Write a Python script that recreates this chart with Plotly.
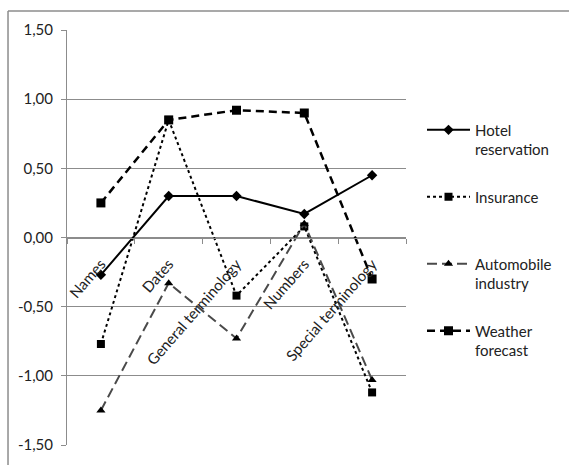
import plotly.graph_objects as go

# Categories and per-series scores
categories = ["Names", "Dates", "General terminology", "Numbers", "Special terminology"]
hotel = [-0.27, 0.30, 0.30, 0.17, 0.45]
insurance = [-0.77, 0.85, -0.42, 0.08, -1.12]
automobile = [-1.25, -0.33, -0.73, 0.10, -1.03]
weather = [0.25, 0.85, 0.92, 0.90, -0.30]

y_ticks = [-1.5, -1.0, -0.5, 0.0, 0.5, 1.0, 1.5]
y_tick_text = ["-1,50", "-1,00", "-0,50", "0,00", "0,50", "1,00", "1,50"]

FONT = "Lato"
GRID = "#8c8c8c"
TEXT = "#222222"

fig = go.Figure()

series = [
    ("Hotel<br>reservation", hotel, dict(color="black", width=2, dash="solid"),
     dict(symbol="diamond", size=8, color="black")),
    ("Insurance<br> ", insurance, dict(color="black", width=2, dash="dot"),
     dict(symbol="square", size=8, color="black")),
    ("Automobile<br>industry", automobile, dict(color="#4a4a4a", width=2, dash="10px,5px"),
     dict(symbol="triangle-up", size=8, color="black")),
    ("Weather<br>forecast", weather, dict(color="black", width=2.5, dash="8px,5px"),
     dict(symbol="square", size=9, color="black")),
]

for i, (name, vals, line, marker) in enumerate(series):
    fig.add_trace(go.Scatter(
        x=categories, y=vals, name=name, mode="lines+markers",
        line=line, marker=marker, legendgroup=f"g{i}",
    ))

# Outer chart frame: left and top edges
frame = dict(color=GRID, width=1.5)
fig.add_shape(type="line", xref="paper", yref="paper",
              x0=-0.174, x1=-0.174, y0=-0.06, y1=1.046, line=frame, layer="above")
fig.add_shape(type="line", xref="paper", yref="paper",
              x0=-0.174, x1=1.5, y0=1.046, y1=1.046, line=frame, layer="above")

fig.update_layout(
    width=569, height=465,
    margin=dict(l=67, r=163, t=30, b=18),
    paper_bgcolor="white", plot_bgcolor="white",
    font=dict(family=FONT, size=15, color=TEXT),
    showlegend=True,
    legend=dict(
        xref="container", yref="paper",
        x=422 / 569, y=(447 - 114) / 417, xanchor="left", yanchor="top",
        valign="top", tracegroupgap=25, itemwidth=43,
        font=dict(family=FONT, size=15, color=TEXT),
        bgcolor="rgba(0,0,0,0)",
    ),
    xaxis=dict(
        type="category", anchor="free", position=0.5,
        showline=True, linecolor=GRID, linewidth=1,
        ticks="outside", tickson="boundaries", ticklen=5, tickcolor=GRID,
        tickangle=-49, ticklabelstandoff=11,
        tickfont=dict(family=FONT, size=15, color=TEXT),
        showgrid=False, zeroline=False,
        range=[-0.5, 4.5],
    ),
    yaxis=dict(
        range=[-1.5, 1.5], tickvals=y_ticks, ticktext=y_tick_text,
        showline=True, linecolor=GRID, linewidth=1,
        ticks="outside", ticklen=5, tickcolor=GRID,
        ticklabelstandoff=5,
        showgrid=True, gridcolor=GRID, gridwidth=1,
        zeroline=False,
        tickfont=dict(family=FONT, size=15, color=TEXT),
    ),
)

fig.write_html("out.html")
